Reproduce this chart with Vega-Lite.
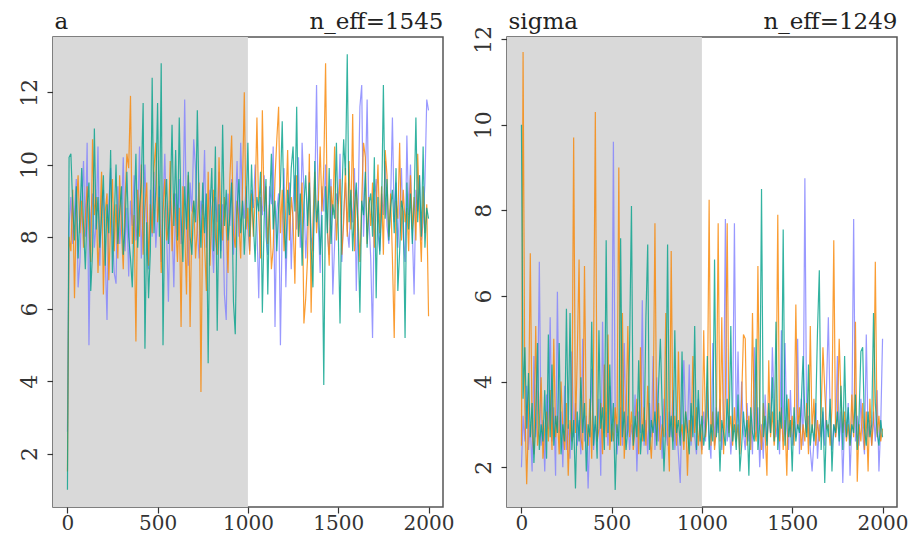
{
"$schema": "https://vega.github.io/schema/vega-lite/v6.json",
"padding": {"left": 17, "top": 9, "right": 0, "bottom": 0},
"background": "white",
"spacing": 64,
"bounds": "flush",
"resolve": {"scale": {"color": "independent"}},
"data": {"values": [
{"t":1,"a1":2.6,"a2":1.5,"a3":1.0,"s1":2.0,"s2":2.5,"s3":10.0},
{"t":10,"a1":8.3,"a2":8.0,"a3":10.2,"s1":3.2,"s2":11.7,"s3":3.6},
{"t":20,"a1":9.1,"a2":7.6,"a3":10.3,"s1":2.6,"s2":3.4,"s3":4.8},
{"t":30,"a1":7.8,"a2":9.3,"a3":8.9,"s1":3.9,"s2":1.6,"s3":2.9},
{"t":40,"a1":8.7,"a2":6.3,"a3":7.9,"s1":2.4,"s2":3.1,"s3":4.2},
{"t":50,"a1":9.6,"a2":8.8,"a3":9.4,"s1":3.0,"s2":7.0,"s3":2.7},
{"t":60,"a1":6.6,"a2":9.7,"a3":7.4,"s1":1.9,"s2":2.8,"s3":3.5},
{"t":70,"a1":7.3,"a2":8.1,"a3":8.6,"s1":4.6,"s2":2.3,"s3":2.1},
{"t":80,"a1":8.9,"a2":9.0,"a3":9.9,"s1":2.7,"s2":5.3,"s3":3.1},
{"t":90,"a1":10.1,"a2":7.7,"a3":8.3,"s1":3.3,"s2":2.5,"s3":4.9},
{"t":100,"a1":8.0,"a2":8.5,"a3":7.1,"s1":6.8,"s2":3.0,"s3":2.4},
{"t":110,"a1":10.6,"a2":9.4,"a3":8.8,"s1":2.5,"s2":4.1,"s3":3.0},
{"t":120,"a1":5.0,"a2":8.2,"a3":9.5,"s1":3.1,"s2":2.2,"s3":2.6},
{"t":130,"a1":8.6,"a2":7.3,"a3":6.5,"s1":1.9,"s2":2.9,"s3":3.8},
{"t":140,"a1":9.2,"a2":10.7,"a3":7.6,"s1":3.7,"s2":3.3,"s3":2.2},
{"t":150,"a1":7.7,"a2":8.6,"a3":11.0,"s1":2.9,"s2":2.6,"s3":5.1},
{"t":160,"a1":8.4,"a2":9.1,"a3":8.2,"s1":5.5,"s2":3.8,"s3":2.7},
{"t":170,"a1":10.5,"a2":7.0,"a3":9.1,"s1":2.6,"s2":2.4,"s3":4.4},
{"t":180,"a1":7.2,"a2":8.3,"a3":7.7,"s1":3.4,"s2":5.0,"s3":2.5},
{"t":190,"a1":8.8,"a2":9.8,"a3":8.6,"s1":1.8,"s2":2.7,"s3":3.2},
{"t":200,"a1":9.3,"a2":6.4,"a3":9.7,"s1":6.1,"s2":3.2,"s3":2.8},
{"t":210,"a1":7.5,"a2":8.7,"a3":7.2,"s1":2.8,"s2":2.3,"s3":4.9},
{"t":220,"a1":5.7,"a2":9.2,"a3":8.9,"s1":3.3,"s2":4.0,"s3":2.3},
{"t":230,"a1":8.9,"a2":6.8,"a3":8.1,"s1":2.0,"s2":2.9,"s3":3.0},
{"t":240,"a1":9.9,"a2":8.4,"a3":10.4,"s1":3.9,"s2":2.4,"s3":2.6},
{"t":250,"a1":8.1,"a2":9.6,"a3":7.0,"s1":2.4,"s2":3.5,"s3":5.7},
{"t":260,"a1":7.0,"a2":7.6,"a3":8.5,"s1":3.0,"s2":1.8,"s3":2.9},
{"t":270,"a1":6.7,"a2":8.9,"a3":10.0,"s1":2.2,"s2":3.1,"s3":5.6},
{"t":280,"a1":9.4,"a2":7.4,"a3":7.8,"s1":4.7,"s2":2.6,"s3":2.4},
{"t":290,"a1":7.8,"a2":9.7,"a3":8.7,"s1":2.7,"s2":9.7,"s3":3.1},
{"t":300,"a1":8.5,"a2":8.2,"a3":9.4,"s1":3.5,"s2":2.8,"s3":1.5},
{"t":310,"a1":10.2,"a2":7.1,"a3":7.5,"s1":2.5,"s2":4.6,"s3":3.3},
{"t":320,"a1":7.6,"a2":9.0,"a3":8.3,"s1":3.1,"s2":6.85,"s3":2.6},
{"t":330,"a1":8.8,"a2":10.3,"a3":9.8,"s1":2.3,"s2":2.7,"s3":4.1},
{"t":340,"a1":6.9,"a2":9.9,"a3":8.0,"s1":5.0,"s2":2.4,"s3":2.8},
{"t":350,"a1":9.0,"a2":11.9,"a3":7.4,"s1":2.6,"s2":6.7,"s3":3.5},
{"t":360,"a1":8.3,"a2":7.8,"a3":6.6,"s1":3.2,"s2":3.0,"s3":1.9},
{"t":370,"a1":9.7,"a2":8.6,"a3":8.6,"s1":1.5,"s2":2.5,"s3":3.0},
{"t":380,"a1":7.9,"a2":5.1,"a3":10.3,"s1":2.9,"s2":3.6,"s3":2.7},
{"t":390,"a1":8.4,"a2":9.3,"a3":7.7,"s1":4.3,"s2":2.2,"s3":5.4},
{"t":400,"a1":10.5,"a2":8.0,"a3":8.8,"s1":2.4,"s2":4.5,"s3":2.5},
{"t":410,"a1":7.4,"a2":10.0,"a3":9.5,"s1":3.0,"s2":10.3,"s3":3.2},
{"t":420,"a1":8.7,"a2":7.5,"a3":11.7,"s1":2.7,"s2":2.6,"s3":2.2},
{"t":430,"a1":10.0,"a2":8.8,"a3":4.9,"s1":3.6,"s2":2.9,"s3":5.2},
{"t":440,"a1":8.2,"a2":9.5,"a3":8.4,"s1":1.8,"s2":3.5,"s3":2.9},
{"t":450,"a1":7.1,"a2":7.2,"a3":6.3,"s1":5.4,"s2":2.3,"s3":3.4},
{"t":460,"a1":9.3,"a2":8.9,"a3":7.6,"s1":2.8,"s2":4.4,"s3":2.4},
{"t":470,"a1":8.0,"a2":8.1,"a3":12.4,"s1":3.3,"s2":2.7,"s3":7.3},
{"t":480,"a1":9.8,"a2":9.9,"a3":8.1,"s1":2.5,"s2":5.1,"s3":2.8},
{"t":490,"a1":7.7,"a2":10.6,"a3":9.3,"s1":3.9,"s2":2.4,"s3":4.4},
{"t":500,"a1":8.6,"a2":8.4,"a3":11.7,"s1":2.6,"s2":3.0,"s3":2.6},
{"t":510,"a1":9.4,"a2":9.1,"a3":8.0,"s1":9.6,"s2":2.6,"s3":3.5},
{"t":520,"a1":7.3,"a2":7.0,"a3":12.8,"s1":3.1,"s2":3.4,"s3":1.47},
{"t":530,"a1":8.9,"a2":8.7,"a3":5.0,"s1":2.3,"s2":2.8,"s3":3.0},
{"t":540,"a1":10.3,"a2":9.6,"a3":8.7,"s1":2.9,"s2":9.0,"s3":2.5},
{"t":550,"a1":8.1,"a2":7.9,"a3":9.6,"s1":3.4,"s2":2.5,"s3":7.35},
{"t":560,"a1":6.2,"a2":8.3,"a3":7.8,"s1":2.5,"s2":5.6,"s3":2.7},
{"t":570,"a1":9.0,"a2":10.1,"a3":8.9,"s1":4.9,"s2":2.2,"s3":3.3},
{"t":580,"a1":8.4,"a2":7.6,"a3":11.1,"s1":2.7,"s2":3.1,"s3":2.4},
{"t":590,"a1":6.6,"a2":9.2,"a3":8.3,"s1":3.2,"s2":5.3,"s3":2.9},
{"t":600,"a1":9.2,"a2":8.5,"a3":10.4,"s1":2.4,"s2":2.7,"s3":4.9},
{"t":610,"a1":8.0,"a2":7.3,"a3":7.9,"s1":3.0,"s2":3.3,"s3":8.1},
{"t":620,"a1":9.6,"a2":8.8,"a3":11.3,"s1":2.6,"s2":2.4,"s3":2.5},
{"t":630,"a1":7.8,"a2":5.5,"a3":8.6,"s1":3.7,"s2":2.9,"s3":3.2},
{"t":640,"a1":8.5,"a2":9.4,"a3":7.3,"s1":1.9,"s2":3.6,"s3":2.7},
{"t":650,"a1":11.8,"a2":8.2,"a3":9.4,"s1":3.3,"s2":2.3,"s3":4.5},
{"t":660,"a1":8.3,"a2":6.4,"a3":8.2,"s1":2.8,"s2":4.8,"s3":2.3},
{"t":670,"a1":7.2,"a2":9.7,"a3":9.8,"s1":5.9,"s2":2.6,"s3":3.0},
{"t":680,"a1":9.5,"a2":5.5,"a3":8.0,"s1":2.5,"s2":3.4,"s3":2.6},
{"t":690,"a1":8.7,"a2":8.6,"a3":7.5,"s1":3.1,"s2":2.5,"s3":5.5},
{"t":700,"a1":10.7,"a2":9.0,"a3":9.0,"s1":2.3,"s2":3.9,"s3":7.2},
{"t":710,"a1":9.9,"a2":7.4,"a3":8.4,"s1":3.5,"s2":2.8,"s3":2.4},
{"t":720,"a1":8.2,"a2":8.3,"a3":11.5,"s1":2.7,"s2":2.2,"s3":3.1},
{"t":730,"a1":7.4,"a2":9.5,"a3":8.8,"s1":4.6,"s2":3.2,"s3":2.8},
{"t":740,"a1":9.0,"a2":3.7,"a3":7.7,"s1":2.4,"s2":7.7,"s3":3.3},
{"t":750,"a1":8.6,"a2":8.9,"a3":9.5,"s1":4.1,"s2":2.6,"s3":2.5},
{"t":760,"a1":10.4,"a2":7.8,"a3":8.1,"s1":2.6,"s2":3.5,"s3":3.9},
{"t":770,"a1":7.7,"a2":6.5,"a3":9.2,"s1":3.2,"s2":2.4,"s3":5.0},
{"t":780,"a1":8.8,"a2":9.8,"a3":4.5,"s1":2.2,"s2":3.0,"s3":3.4},
{"t":790,"a1":9.3,"a2":7.2,"a3":8.7,"s1":3.6,"s2":2.7,"s3":1.9},
{"t":800,"a1":8.1,"a2":8.7,"a3":9.9,"s1":2.9,"s2":5.6,"s3":3.0},
{"t":810,"a1":7.0,"a2":9.3,"a3":7.6,"s1":2.5,"s2":2.9,"s3":7.2},
{"t":820,"a1":9.1,"a2":8.0,"a3":10.5,"s1":3.3,"s2":1.9,"s3":2.7},
{"t":830,"a1":8.4,"a2":7.5,"a3":5.4,"s1":2.7,"s2":7.05,"s3":3.2},
{"t":840,"a1":9.8,"a2":10.2,"a3":8.9,"s1":3.8,"s2":2.6,"s3":2.4},
{"t":850,"a1":7.6,"a2":8.5,"a3":7.4,"s1":2.4,"s2":3.2,"s3":5.2},
{"t":860,"a1":8.9,"a2":7.9,"a3":11.1,"s1":3.0,"s2":2.5,"s3":2.8},
{"t":870,"a1":6.4,"a2":9.1,"a3":8.3,"s1":2.3,"s2":4.7,"s3":3.1},
{"t":880,"a1":5.7,"a2":8.3,"a3":9.3,"s1":1.63,"s2":2.7,"s3":2.5},
{"t":890,"a1":9.2,"a2":7.0,"a3":7.9,"s1":3.4,"s2":3.0,"s3":4.7},
{"t":900,"a1":8.3,"a2":9.6,"a3":8.6,"s1":4.5,"s2":2.4,"s3":2.6},
{"t":910,"a1":9.6,"a2":10.8,"a3":9.5,"s1":3.1,"s2":3.3,"s3":3.3},
{"t":920,"a1":7.5,"a2":8.1,"a3":6.2,"s1":2.8,"s2":1.8,"s3":2.9},
{"t":930,"a1":8.7,"a2":7.7,"a3":5.3,"s1":4.4,"s2":3.1,"s3":2.3},
{"t":940,"a1":10.1,"a2":9.0,"a3":8.8,"s1":2.5,"s2":2.6,"s3":3.5},
{"t":950,"a1":8.0,"a2":8.4,"a3":9.6,"s1":3.2,"s2":4.6,"s3":2.7},
{"t":960,"a1":10.6,"a2":7.4,"a3":8.1,"s1":2.7,"s2":2.8,"s3":5.3},
{"t":970,"a1":9.0,"a2":9.4,"a3":9.0,"s1":2.3,"s2":3.4,"s3":2.4},
{"t":980,"a1":8.5,"a2":12.0,"a3":7.5,"s1":3.6,"s2":2.5,"s3":3.8},
{"t":990,"a1":9.4,"a2":8.2,"a3":8.7,"s1":2.9,"s2":3.0,"s3":2.6},
{"t":1000,"a1":8.2,"a2":8.8,"a3":10.6,"s1":2.4,"s2":2.3,"s3":3.2},
{"t":1010,"a1":7.6,"a2":7.5,"a3":8.0,"s1":3.3,"s2":5.2,"s3":2.5},
{"t":1020,"a1":9.3,"a2":9.2,"a3":10.0,"s1":2.6,"s2":2.7,"s3":2.9},
{"t":1030,"a1":8.8,"a2":8.0,"a3":8.4,"s1":3.9,"s2":3.2,"s3":4.6},
{"t":1040,"a1":10.0,"a2":9.0,"a3":7.3,"s1":2.7,"s2":8.25,"s3":2.4},
{"t":1050,"a1":8.3,"a2":11.3,"a3":9.1,"s1":2.2,"s2":2.5,"s3":3.0},
{"t":1060,"a1":6.3,"a2":8.6,"a3":8.7,"s1":4.9,"s2":3.3,"s3":2.6},
{"t":1070,"a1":9.1,"a2":7.4,"a3":9.8,"s1":2.5,"s2":2.4,"s3":6.85},
{"t":1080,"a1":8.6,"a2":11.5,"a3":5.9,"s1":3.4,"s2":2.9,"s3":2.7},
{"t":1090,"a1":9.7,"a2":8.7,"a3":8.5,"s1":2.8,"s2":7.7,"s3":3.3},
{"t":1100,"a1":8.0,"a2":9.4,"a3":9.6,"s1":3.6,"s2":2.6,"s3":1.9},
{"t":1110,"a1":7.5,"a2":7.8,"a3":6.4,"s1":2.4,"s2":5.5,"s3":3.1},
{"t":1120,"a1":9.4,"a2":8.9,"a3":8.9,"s1":3.1,"s2":2.3,"s3":2.8},
{"t":1130,"a1":8.9,"a2":7.1,"a3":10.3,"s1":7.8,"s2":3.7,"s3":2.5},
{"t":1140,"a1":10.5,"a2":7.7,"a3":8.2,"s1":2.6,"s2":7.7,"s3":3.6},
{"t":1150,"a1":5.5,"a2":9.6,"a3":9.0,"s1":3.2,"s2":2.8,"s3":2.7},
{"t":1160,"a1":8.7,"a2":10.7,"a3":7.6,"s1":2.3,"s2":3.2,"s3":5.3},
{"t":1170,"a1":9.2,"a2":11.6,"a3":8.8,"s1":3.0,"s2":2.5,"s3":2.6},
{"t":1180,"a1":5.0,"a2":8.1,"a3":9.4,"s1":7.7,"s2":3.4,"s3":3.0},
{"t":1190,"a1":8.4,"a2":9.3,"a3":11.2,"s1":2.7,"s2":2.6,"s3":2.4},
{"t":1200,"a1":9.9,"a2":7.6,"a3":8.5,"s1":4.7,"s2":3.0,"s3":3.7},
{"t":1210,"a1":6.6,"a2":8.8,"a3":7.4,"s1":2.5,"s2":2.3,"s3":1.9},
{"t":1220,"a1":8.6,"a2":10.4,"a3":9.3,"s1":4.0,"s2":3.6,"s3":2.5},
{"t":1230,"a1":9.5,"a2":7.9,"a3":8.6,"s1":2.8,"s2":5.1,"s3":3.3},
{"t":1240,"a1":7.1,"a2":9.1,"a3":9.9,"s1":2.4,"s2":5.0,"s3":2.7},
{"t":1250,"a1":8.9,"a2":8.5,"a3":10.5,"s1":3.5,"s2":2.5,"s3":3.1},
{"t":1260,"a1":9.7,"a2":6.7,"a3":8.7,"s1":2.6,"s2":3.2,"s3":1.8},
{"t":1270,"a1":8.2,"a2":9.7,"a3":11.6,"s1":3.1,"s2":2.4,"s3":3.4},
{"t":1280,"a1":10.2,"a2":8.0,"a3":8.0,"s1":2.3,"s2":5.6,"s3":2.8},
{"t":1290,"a1":7.7,"a2":8.6,"a3":9.2,"s1":4.8,"s2":2.9,"s3":2.6},
{"t":1300,"a1":10.6,"a2":9.5,"a3":7.2,"s1":2.7,"s2":2.6,"s3":5.0},
{"t":1310,"a1":9.3,"a2":5.6,"a3":8.9,"s1":3.4,"s2":6.7,"s3":2.4},
{"t":1320,"a1":7.4,"a2":6.3,"a3":9.7,"s1":2.0,"s2":3.1,"s3":3.0},
{"t":1330,"a1":8.5,"a2":7.4,"a3":8.3,"s1":3.0,"s2":2.4,"s3":8.5},
{"t":1340,"a1":9.8,"a2":10.3,"a3":9.5,"s1":2.2,"s2":3.5,"s3":2.7},
{"t":1350,"a1":8.0,"a2":5.9,"a3":7.7,"s1":3.7,"s2":2.8,"s3":3.2},
{"t":1360,"a1":7.6,"a2":8.4,"a3":6.6,"s1":2.6,"s2":1.8,"s3":2.5},
{"t":1370,"a1":9.1,"a2":9.8,"a3":10.1,"s1":3.2,"s2":4.5,"s3":3.5},
{"t":1380,"a1":12.2,"a2":8.1,"a3":8.4,"s1":2.8,"s2":2.7,"s3":2.8},
{"t":1390,"a1":8.3,"a2":9.0,"a3":9.0,"s1":4.8,"s2":3.3,"s3":4.1},
{"t":1400,"a1":7.0,"a2":10.5,"a3":7.5,"s1":3.5,"s2":2.5,"s3":2.6},
{"t":1410,"a1":9.4,"a2":8.7,"a3":8.6,"s1":2.7,"s2":3.0,"s3":5.4},
{"t":1420,"a1":8.7,"a2":9.9,"a3":3.9,"s1":3.1,"s2":7.9,"s3":2.4},
{"t":1430,"a1":10.0,"a2":12.8,"a3":9.4,"s1":2.3,"s2":2.6,"s3":3.3},
{"t":1440,"a1":8.1,"a2":8.3,"a3":8.1,"s1":5.2,"s2":3.4,"s3":2.9},
{"t":1450,"a1":7.5,"a2":7.2,"a3":9.9,"s1":2.6,"s2":2.4,"s3":7.55},
{"t":1460,"a1":9.6,"a2":9.4,"a3":7.8,"s1":4.9,"s2":3.1,"s3":2.5},
{"t":1470,"a1":6.4,"a2":8.6,"a3":8.9,"s1":2.9,"s2":1.8,"s3":3.7},
{"t":1480,"a1":7.8,"a2":10.5,"a3":8.5,"s1":2.4,"s2":3.6,"s3":2.7},
{"t":1490,"a1":9.2,"a2":7.9,"a3":10.6,"s1":3.8,"s2":2.7,"s3":3.1},
{"t":1500,"a1":8.9,"a2":8.8,"a3":8.2,"s1":2.5,"s2":3.2,"s3":1.9},
{"t":1510,"a1":10.3,"a2":9.6,"a3":5.6,"s1":3.0,"s2":2.5,"s3":3.4},
{"t":1520,"a1":7.3,"a2":7.5,"a3":9.1,"s1":2.7,"s2":5.8,"s3":2.6},
{"t":1530,"a1":8.6,"a2":8.4,"a3":10.7,"s1":5.0,"s2":2.9,"s3":3.0},
{"t":1540,"a1":9.5,"a2":9.9,"a3":9.7,"s1":2.3,"s2":3.4,"s3":2.8},
{"t":1550,"a1":8.2,"a2":8.0,"a3":13.05,"s1":3.6,"s2":2.4,"s3":3.5},
{"t":1560,"a1":7.7,"a2":10.1,"a3":8.4,"s1":2.5,"s2":3.0,"s3":4.6},
{"t":1570,"a1":9.0,"a2":8.2,"a3":9.3,"s1":8.75,"s2":2.6,"s3":3.2},
{"t":1580,"a1":8.4,"a2":11.4,"a3":7.6,"s1":2.8,"s2":3.5,"s3":2.7},
{"t":1590,"a1":9.9,"a2":7.6,"a3":8.8,"s1":3.2,"s2":2.3,"s3":4.4},
{"t":1600,"a1":6.5,"a2":9.3,"a3":9.5,"s1":2.4,"s2":5.3,"s3":2.5},
{"t":1610,"a1":8.8,"a2":8.5,"a3":8.1,"s1":1.9,"s2":2.8,"s3":3.0},
{"t":1620,"a1":11.6,"a2":7.3,"a3":5.9,"s1":2.6,"s2":3.6,"s3":2.6},
{"t":1630,"a1":12.2,"a2":9.0,"a3":9.0,"s1":3.5,"s2":2.5,"s3":3.3},
{"t":1640,"a1":8.0,"a2":10.6,"a3":8.6,"s1":2.2,"s2":3.1,"s3":5.2},
{"t":1650,"a1":9.4,"a2":10.2,"a3":9.8,"s1":3.0,"s2":2.6,"s3":6.6},
{"t":1660,"a1":11.8,"a2":7.8,"a3":7.7,"s1":2.7,"s2":3.3,"s3":2.4},
{"t":1670,"a1":8.5,"a2":9.1,"a3":8.9,"s1":3.3,"s2":4.8,"s3":3.4},
{"t":1680,"a1":7.4,"a2":8.3,"a3":9.2,"s1":2.5,"s2":3.8,"s3":1.63},
{"t":1690,"a1":5.2,"a2":9.5,"a3":8.0,"s1":3.9,"s2":2.9,"s3":3.1},
{"t":1700,"a1":8.9,"a2":7.7,"a3":10.2,"s1":5.5,"s2":3.0,"s3":2.7},
{"t":1710,"a1":9.6,"a2":8.8,"a3":6.3,"s1":3.2,"s2":2.5,"s3":3.6},
{"t":1720,"a1":8.1,"a2":10.0,"a3":9.1,"s1":2.4,"s2":3.4,"s3":1.9},
{"t":1730,"a1":7.6,"a2":8.1,"a3":7.5,"s1":3.0,"s2":7.3,"s3":3.0},
{"t":1740,"a1":9.2,"a2":9.4,"a3":8.7,"s1":2.7,"s2":2.7,"s3":2.8},
{"t":1750,"a1":8.6,"a2":7.5,"a3":12.2,"s1":4.6,"s2":3.1,"s3":3.3},
{"t":1760,"a1":10.1,"a2":10.4,"a3":8.5,"s1":2.5,"s2":5.0,"s3":2.6},
{"t":1770,"a1":8.3,"a2":9.7,"a3":9.6,"s1":3.3,"s2":3.6,"s3":3.9},
{"t":1780,"a1":7.8,"a2":8.0,"a3":7.9,"s1":1.63,"s2":2.8,"s3":2.4},
{"t":1790,"a1":9.0,"a2":9.2,"a3":8.8,"s1":3.1,"s2":3.3,"s3":4.6},
{"t":1800,"a1":11.3,"a2":7.4,"a3":9.3,"s1":2.7,"s2":2.6,"s3":2.7},
{"t":1810,"a1":8.4,"a2":5.2,"a3":8.1,"s1":3.5,"s2":3.0,"s3":3.4},
{"t":1820,"a1":9.5,"a2":9.0,"a3":9.9,"s1":1.8,"s2":2.5,"s3":2.5},
{"t":1830,"a1":7.7,"a2":8.5,"a3":6.5,"s1":3.0,"s2":3.7,"s3":3.0},
{"t":1840,"a1":8.8,"a2":10.6,"a3":7.6,"s1":7.8,"s2":2.7,"s3":2.8},
{"t":1850,"a1":9.9,"a2":7.9,"a3":9.0,"s1":2.6,"s2":5.4,"s3":3.7},
{"t":1860,"a1":8.0,"a2":9.3,"a3":8.7,"s1":3.2,"s2":1.66,"s3":2.4},
{"t":1870,"a1":7.3,"a2":8.4,"a3":5.2,"s1":2.5,"s2":3.0,"s3":3.2},
{"t":1880,"a1":10.8,"a2":8.8,"a3":9.5,"s1":3.6,"s2":2.6,"s3":4.7},
{"t":1890,"a1":8.6,"a2":7.6,"a3":8.2,"s1":2.8,"s2":3.5,"s3":4.8},
{"t":1900,"a1":10.0,"a2":9.7,"a3":9.2,"s1":2.3,"s2":2.4,"s3":2.9},
{"t":1910,"a1":8.2,"a2":8.2,"a3":7.8,"s1":5.1,"s2":3.3,"s3":2.5},
{"t":1920,"a1":6.4,"a2":9.1,"a3":8.9,"s1":2.7,"s2":1.9,"s3":3.3},
{"t":1930,"a1":9.3,"a2":7.9,"a3":11.3,"s1":3.1,"s2":3.6,"s3":2.7},
{"t":1940,"a1":8.7,"a2":10.3,"a3":8.4,"s1":2.5,"s2":2.5,"s3":3.0},
{"t":1950,"a1":9.7,"a2":8.6,"a3":9.7,"s1":3.3,"s2":3.1,"s3":5.6},
{"t":1960,"a1":7.9,"a2":7.3,"a3":8.0,"s1":2.6,"s2":6.8,"s3":3.5},
{"t":1970,"a1":8.4,"a2":9.4,"a3":10.5,"s1":3.8,"s2":2.7,"s3":2.8},
{"t":1980,"a1":9.5,"a2":8.1,"a3":7.7,"s1":1.9,"s2":3.2,"s3":2.5},
{"t":1990,"a1":11.8,"a2":8.9,"a3":8.8,"s1":3.0,"s2":2.6,"s3":3.1},
{"t":2000,"a1":11.5,"a2":5.8,"a3":8.5,"s1":5.0,"s2":2.9,"s3":2.7}
]},
"hconcat": [
{
"width": 390, "height": 470,
"layer": [
{"data": {"values": [{"warmup_end": 1000}]},
 "mark": {"type": "rect", "color": "#d9d9d9"},
 "encoding": {"x": {"field": "warmup_end", "type": "quantitative", "scale": {"domain": [-79, 2080], "nice": false, "zero": false},
   "axis": {"values": [0, 500, 1000, 1500, 2000], "format": "d", "title": "n_eff=1545", "titleX": 390, "titleY": -479, "titleAlign": "right", "titleBaseline": "alphabetic"}},
  "x2": {"datum": -79}}},
{"transform": [{"fold": ["a1", "a2", "a3"], "as": ["chain", "value"]}],
 "mark": {"type": "line", "strokeWidth": 1.2, "opacity": 0.8},
 "encoding": {
  "x": {"field": "t", "type": "quantitative", "scale": {"domain": [-79, 2080], "nice": false, "zero": false},
        "axis": {"values": [0, 500, 1000, 1500, 2000], "format": "d", "title": "n_eff=1545", "titleX": 390, "titleY": -479, "titleAlign": "right", "titleBaseline": "alphabetic"}},
  "y": {"field": "value", "type": "quantitative", "scale": {"domain": [0.52, 13.53], "nice": false, "zero": false},
        "axis": {"values": [2, 4, 6, 8, 10, 12], "title": "a", "titleX": 1, "titleY": -9, "titleAngle": 0, "titleAlign": "left", "titleBaseline": "alphabetic"}},
  "color": {"field": "chain", "type": "nominal", "scale": {"domain": ["a1", "a2", "a3"], "range": ["#8080FF", "#F98400", "#00A08A"]}, "legend": null}
 }}
]
},
{
"width": 390, "height": 470,
"layer": [
{"data": {"values": [{"warmup_end": 1000}]},
 "mark": {"type": "rect", "color": "#d9d9d9"},
 "encoding": {"x": {"field": "warmup_end", "type": "quantitative", "scale": {"domain": [-79, 2080], "nice": false, "zero": false},
   "axis": {"values": [0, 500, 1000, 1500, 2000], "format": "d", "title": "n_eff=1249", "titleX": 390, "titleY": -479, "titleAlign": "right", "titleBaseline": "alphabetic"}},
  "x2": {"datum": -79}}},
{"transform": [{"fold": ["s1", "s2", "s3"], "as": ["chain", "value"]}],
 "mark": {"type": "line", "strokeWidth": 1.2, "opacity": 0.8},
 "encoding": {
  "x": {"field": "t", "type": "quantitative", "scale": {"domain": [-79, 2080], "nice": false, "zero": false},
        "axis": {"values": [0, 500, 1000, 1500, 2000], "format": "d", "title": "n_eff=1249", "titleX": 390, "titleY": -479, "titleAlign": "right", "titleBaseline": "alphabetic"}},
  "y": {"field": "value", "type": "quantitative", "scale": {"domain": [1.07, 12.05], "nice": false, "zero": false},
        "axis": {"values": [2, 4, 6, 8, 10, 12], "title": "sigma", "titleX": 1, "titleY": -9, "titleAngle": 0, "titleAlign": "left", "titleBaseline": "alphabetic"}},
  "color": {"field": "chain", "type": "nominal", "scale": {"domain": ["s1", "s2", "s3"], "range": ["#8080FF", "#F98400", "#00A08A"]}, "legend": null}
 }}
]
}
],
"config": {
 "view": {"stroke": "#555555", "strokeWidth": 1.5},
 "axis": {"grid": false, "domain": false, "tickColor": "#333333", "tickSize": 6, "tickWidth": 1.2, "labelFont": "DejaVu Serif", "labelFontSize": 22, "labelColor": "#333333", "labelOverlap": false, "titleFont": "DejaVu Serif", "titleFontSize": 23, "titleFontWeight": "normal", "titleColor": "#222222"},
 "axisY": {"labelAngle": 270, "labelAlign": "center", "labelBaseline": "bottom", "labelPadding": 6},
 "axisX": {"labelPadding": 0, "labelBaseline": "top", "labelFontSize": 20}
}
}
